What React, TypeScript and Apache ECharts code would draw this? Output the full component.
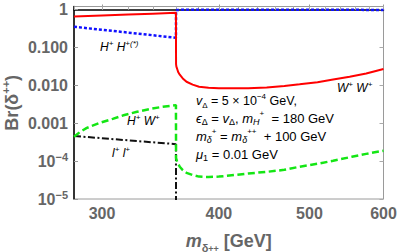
import React, { useEffect, useRef } from 'react';
import * as echarts from 'echarts';

// ---- data ----
// δ++ -> W+ W+
const massWW = [280, 300, 320, 340, 359.9, 360, 360.3, 361, 362, 363.3, 366, 369.4, 375, 381, 390, 400, 416, 430, 450, 470, 488, 510, 530, 552, 575, 600];
const brWW = [0.65, 0.693, 0.736, 0.778, 0.82, 0.036, 0.031, 0.027, 0.022, 0.019, 0.0152, 0.0124, 0.0104, 0.0092, 0.0086, 0.0084, 0.0083, 0.0084, 0.0088, 0.0096, 0.0106, 0.0121, 0.0142, 0.0168, 0.0205, 0.027];
// δ++ -> H+ H+(*)
const massHH = [280, 300, 320, 340, 359.9, 360, 361, 365, 370, 380, 400, 450, 500, 550, 600];
const brHH = [0.35, 0.292, 0.246, 0.209, 0.18, 0.955, 0.97, 0.98, 0.985, 0.99, 0.991, 0.99, 0.988, 0.982, 0.972];
// δ++ -> H+ W+
const massHW = [280, 284, 289, 298, 308, 317, 327, 337.5, 348, 359.9, 360, 361, 363.3, 366, 369.4, 375, 381, 390, 400, 416, 430, 450, 470, 488, 510, 530, 555, 575, 600];
const brHW = [4.4e-4, 5.8e-4, 7.5e-4, 1.01e-3, 1.3e-3, 1.64e-3, 2.0e-3, 2.37e-3, 2.7e-3, 3.0e-3, 1.2e-4, 9.5e-5, 7.1e-5, 5.8e-5, 4.9e-5, 4.3e-5, 3.9e-5, 3.8e-5, 3.9e-5, 4.3e-5, 4.7e-5, 5.2e-5, 5.9e-5, 7.1e-5, 8.5e-5, 1.02e-4, 1.3e-4, 1.55e-4, 1.88e-4];
// δ++ -> l+ l+
const massLL = [280, 320, 359.9, 360];
const brLL = [4.6e-4, 3.53e-4, 2.8e-4, 1e-6];

// axis ticks
const xRange = [280, 600];
const yRange = [1e-5, 1.2];
const xMajorTicks = [300, 400, 500, 600];
const xMinorTicks = [280, 300, 320, 340, 360, 380, 400, 420, 440, 460, 480, 500, 520, 540, 560, 580, 600];
const yDecades = [-5, -4, -3, -2, -1, 0];
const yTickLabels = ['10{s|−5}', '10{s|−4}', '0.001', '0.010', '0.100', '1'];

const FONT = 'Liberation Sans';
const GRAY = '#666666';
const FRAME = '#9a9a9a';

const lg = (v: number) => Math.log10(v);
const toPairs = (xs: number[], ys: number[]) => xs.map((x, i) => [lg(x), lg(ys[i])]);

const makeRich = (fs: number) => {
  const s = Math.round(fs * 0.67);
  return {
    i: { fontStyle: 'italic', fontSize: fs, fontFamily: FONT, color: '#000', lineHeight: fs + 4 },
    sup: { fontStyle: 'italic', fontSize: s, fontFamily: FONT, color: '#000', verticalAlign: 'top', lineHeight: s + 1 },
    r: { fontSize: fs, fontFamily: FONT, color: '#000', lineHeight: fs + 4 },
    sub: { fontSize: s, fontFamily: FONT, color: '#000', verticalAlign: 'bottom', lineHeight: s + 3 },
    isub: { fontStyle: 'italic', fontSize: s, fontFamily: FONT, color: '#000', verticalAlign: 'bottom', lineHeight: s + 3 },
    ssup: { fontSize: s - 1, fontFamily: FONT, color: '#000', verticalAlign: 'top', lineHeight: s + 4 },
    rsup: { fontSize: s, fontFamily: FONT, color: '#000', verticalAlign: 'top', lineHeight: s + 1 },
  };
};

const textEl = (x: number, y: number, text: string, fs: number) => ({
  type: 'text',
  x,
  y,
  style: {
    text,
    rich: makeRich(fs),
    font: `${fs}px "${FONT}"`,
    fill: '#000',
    lineHeight: fs + 4,
    verticalAlign: 'middle',
    align: 'left',
  },
  z: 100,
});

export default function App() {
  const ref = useRef<HTMLDivElement>(null);
  useEffect(() => {
    if (!ref.current) return;
    const chart = echarts.init(ref.current, undefined, { renderer: 'svg' });
    const xMin = lg(xRange[0]);
    const xMax = lg(xRange[1]);
    const yMin = lg(yRange[0]);
    const yMax = lg(yRange[1]);

    const baseX = { type: 'value', min: xMin, max: xMax, splitLine: { show: false } };
    const baseY = { type: 'value', min: yMin, max: yMax, splitLine: { show: false } };

    const option: any = {
      animation: false,
      grid: {
        left: 74, right: 16.5, top: 6.5, bottom: 53,
        show: true, borderColor: FRAME, borderWidth: 1,
        outerBoundsMode: 'none',
      },
      xAxis: [
        {
          ...baseX,
          position: 'bottom',
          axisLine: { show: true, lineStyle: { color: '#000', width: 1.5 } },
          axisTick: { show: true, inside: true, length: 5, customValues: xMajorTicks.map(lg), lineStyle: { color: '#999' } },
          axisLabel: {
            customValues: xMajorTicks.map(lg),
            formatter: (v: number) => String(Math.round(Math.pow(10, v))),
            color: GRAY, fontSize: 16, fontWeight: 'bold', fontFamily: FONT, margin: 6,
            showMinLabel: true, showMaxLabel: true,
          },
          name: '{i|m}{sub|δ}{sup|++} [GeV]',
          nameLocation: 'middle',
          nameGap: 30,
          nameMoveOverlap: false,
          nameTextStyle: {
            color: GRAY, fontSize: 18, fontWeight: 'bold', fontFamily: FONT,
            rich: {
              i: { color: GRAY, fontSize: 18, fontWeight: 'bold', fontStyle: 'italic', fontFamily: FONT, lineHeight: 24 },
              sub: { color: GRAY, fontSize: 11, fontWeight: 'bold', fontFamily: FONT, verticalAlign: 'bottom', lineHeight: 16 },
              sup: { color: GRAY, fontSize: 9, fontWeight: 'bold', fontFamily: FONT, verticalAlign: 'bottom', lineHeight: 22 },
            },
          },
        },
        {
          ...baseX,
          position: 'bottom',
          axisLine: { show: false },
          axisTick: { show: true, inside: true, length: 3, customValues: xMinorTicks.map(lg), lineStyle: { color: '#aaa' } },
          axisLabel: { show: false },
        },
        {
          ...baseX,
          position: 'top',
          axisLine: { show: false },
          axisTick: { show: true, inside: true, length: 3, customValues: xMinorTicks.map(lg), lineStyle: { color: '#aaa' } },
          axisLabel: { show: false },
        },
      ],
      yAxis: [
        {
          ...baseY,
          position: 'left',
          axisLine: { show: true, lineStyle: { color: '#000', width: 1.5 } },
          axisTick: { show: true, inside: true, length: 4, customValues: yDecades, lineStyle: { color: '#999' } },
          axisLabel: {
            customValues: yDecades,
            formatter: (v: number) => yTickLabels[yDecades.indexOf(Math.round(v))] ?? '',
            color: GRAY, fontSize: 16, fontWeight: 'bold', fontFamily: FONT, margin: 6,
            rich: {
              s: { color: GRAY, fontSize: 11, fontWeight: 'bold', fontFamily: FONT, verticalAlign: 'top', lineHeight: 12 },
            },
            lineHeight: 20,
          },
          name: 'Br(δ{s|++})',
          nameLocation: 'middle',
          nameRotate: 90,
          nameGap: 50,
          nameMoveOverlap: false,
          nameTextStyle: {
            color: GRAY, fontSize: 18, fontWeight: 'bold', fontFamily: FONT, lineHeight: 24,
            rich: {
              s: { color: GRAY, fontSize: 11, fontWeight: 'bold', fontFamily: FONT, verticalAlign: 'top', lineHeight: 13 },
            },
          },
        },
        {
          ...baseY,
          position: 'right',
          axisLine: { show: false },
          axisTick: { show: true, inside: true, length: 4, customValues: yDecades, lineStyle: { color: '#aaa' } },
          axisLabel: { show: false },
        },
      ],
      series: [
        {
          type: 'line', name: 'l+ l+', data: toPairs(massLL, brLL), showSymbol: false, symbol: 'none',
          lineStyle: { color: '#111', width: 2, type: [7, 2.5, 2, 2.5] }, z: 2,
        },
        {
          type: 'line', name: 'H+ W+', data: toPairs(massHW, brHW), showSymbol: false, symbol: 'none',
          lineStyle: { color: '#14e614', width: 2.5, type: [7, 3.5] }, z: 3,
        },
        {
          type: 'line', name: 'H+ H+', data: toPairs(massHH, brHH), showSymbol: false, symbol: 'none',
          lineStyle: { color: '#1010ff', width: 2.5, type: [3, 2] }, z: 4,
        },
        {
          type: 'line', name: 'W+ W+', data: toPairs(massWW, brWW), showSymbol: false, symbol: 'none',
          lineStyle: { color: '#ff0000', width: 2 }, z: 5,
        },
      ],
      graphic: [
        textEl(100, 47, '{i|H}{sup|+} {i|H}{sup|+(*)}', 12),
        textEl(337, 88, '{i|W}{sup|+} {i|W}{sup|+}', 12),
        textEl(127, 121, '{i|H}{sup|+} {i|W}{sup|+}', 12),
        textEl(112, 153, '{i|l}{sup|+} {i|l}{sup|+}', 12),
        textEl(196, 101, '{i|v}{sub|Δ}{r| = 5 × 10}{rsup|−4}{r| GeV,}', 12.5),
        textEl(196, 118, '{i|ϵ}{sub|Δ}{r| = }{i|v}{sub|Δ}{r|, }{i|m}{isub|H}{ssup|+}{r|  = 180 GeV}', 13),
        textEl(196, 136, '{i|m}{isub|δ}{ssup|+}{r| = }{i|m}{isub|δ}{ssup|++}{r|  + 100 GeV}', 13),
        textEl(196, 154, '{i|μ}{sub|1}{r| = 0.01 GeV}', 13),
      ],
    };
    chart.setOption(option);
    return () => chart.dispose();
  }, []);
  return <div ref={ref} style={{ position: 'absolute', left: 0, top: 0, width: 400, height: 252 }} />;
}
